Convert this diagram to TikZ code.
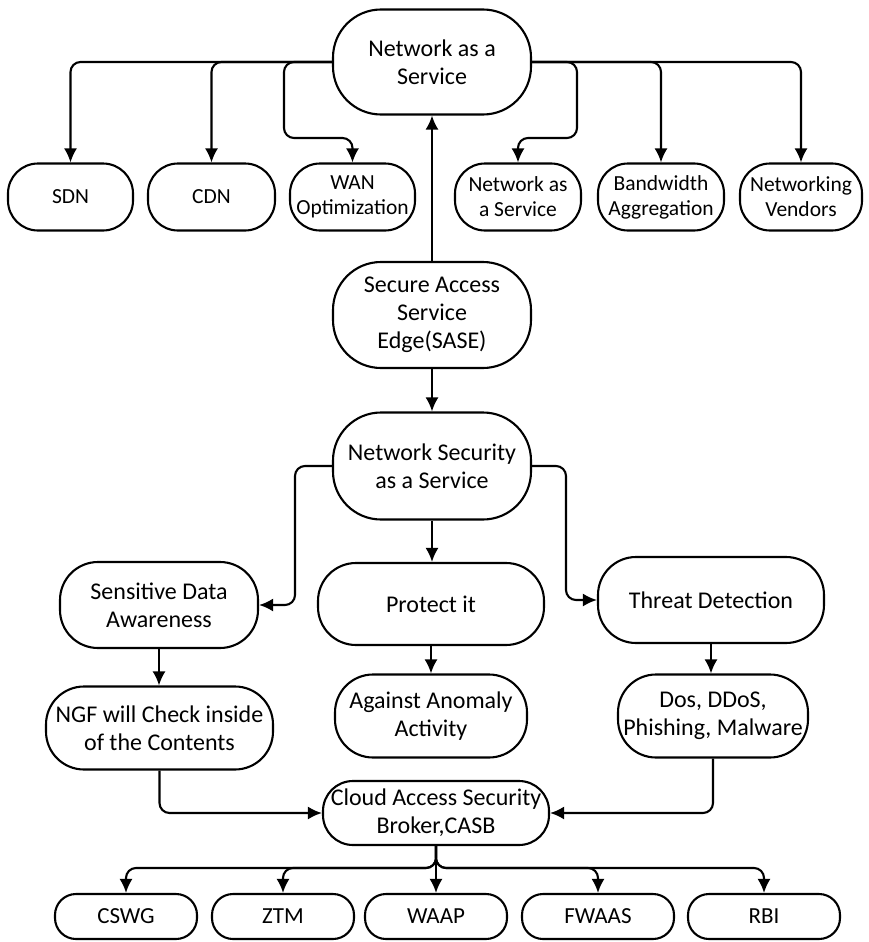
\documentclass[tikz,border=0pt]{standalone}
\usepackage{fontspec}
\setmainfont{Carlito}
\usetikzlibrary{arrows.meta}
\tikzset{
  box/.style={draw, line width=2.1pt, align=center, inner sep=0pt,
    font=\fontsize{24}{28}\selectfont},
  bigbox/.style={box, minimum width=198pt, minimum height=105pt, rounded corners=48pt},
  midbox/.style={box, minimum width=226pt, minimum height=84pt, rounded corners=38pt},
  smallbox/.style={box, minimum width=125pt, minimum height=67pt, rounded corners=30pt,
    font=\fontsize{21.5}{25}\selectfont},
  leafbox/.style={box, minimum width=142pt, minimum height=45pt, rounded corners=21pt,
    font=\fontsize{23}{27}\selectfont},
  conn/.style={line width=2.1pt, rounded corners=10pt,
    -{Latex[length=14pt,width=13pt]}},
}
\begin{document}
\begin{tikzpicture}[x=1pt,y=-1pt]
\useasboundingbox (0,0) rectangle (868,942);

% root and its service branches
\node[bigbox] (naas) at (432,62) {Network as a\\Service};
\node[smallbox] (sdn) at (70.5,197) {SDN};
\node[smallbox, minimum width=127pt] (cdn) at (211.5,197) {CDN};
\node[smallbox] (wan) at (352.5,197) {WAN\\Optimization};
\node[smallbox, minimum width=126pt] (naas2) at (518,197) {Network as\\a Service};
\node[smallbox, minimum width=126pt] (bw) at (661,197) {Bandwidth\\Aggregation};
\node[smallbox, minimum width=122pt] (vend) at (801,197) {Networking\\Vendors};

% SASE core
\node[bigbox, minimum height=106pt] (sase) at (432,315) {Secure Access\\Service\\Edge(SASE)};
\node[bigbox, minimum height=107pt] (nsaas) at (432,466) {Network Security\\as a Service};

% security functions
\node[midbox, minimum width=198pt, minimum height=86pt] (sda) at (159,605) {Sensitive Data\\Awareness};
\node[midbox, minimum height=82pt] (prot) at (431,604) {Protect it};
\node[midbox, minimum height=86pt] (td) at (711,600) {Threat Detection};
\node[midbox, minimum width=227pt, minimum height=83pt] (ngf) at (159.5,728) {NGF will Check inside\\of the Contents};
\node[midbox, minimum width=192pt, minimum height=83pt] (aaa) at (431,716) {Against Anomaly\\Activity};
\node[midbox, minimum width=190pt, minimum height=83pt] (dos) at (713,716) {Dos, DDoS,\\Phishing, Malware};
\node[midbox, minimum height=64pt, rounded corners=30pt] (casb) at (436,813) {Cloud Access Security\\Broker,CASB};

% CASB components
\node[leafbox] (cswg) at (126,916.5) {CSWG};
\node[leafbox] (ztm) at (283,916.5) {ZTM};
\node[leafbox] (waap) at (436,916.5) {WAAP};
\node[leafbox, minimum width=152pt] (fwaas) at (598,916.5) {FWAAS};
\node[leafbox, minimum width=152pt] (rbi) at (764,916.5) {RBI};

% routing points
\coordinate (wanbend) at (284,138);
\coordinate (naasbend) at (577,138);
\coordinate (leftdrop) at (295,0);
\coordinate (rightdrop) at (566,0);
\coordinate (bus) at (436,868);

% connectors from the root
\draw[conn] (naas.west) -| (sdn.north);
\draw[conn] (naas.west) -| (cdn.north);
\draw[conn] (naas.west) -| (wanbend) -| (wan.north);
\draw[conn] (naas.east) -| (naasbend) -| (naas2.north);
\draw[conn] (naas.east) -| (bw.north);
\draw[conn] (naas.east) -| (vend.north);

% core chain
\draw[conn] (sase.north) -- (naas.south);
\draw[conn] (sase.south) -- (nsaas.north);
\draw[conn] (nsaas.west) -| (leftdrop |- sda.east) -- (sda.east);
\draw[conn] (nsaas.east) -| (rightdrop |- td.west) -- (td.west);
\draw[conn] (nsaas.south) -- (nsaas.south |- prot.north);
\draw[conn] (sda.south) -- (sda.south |- ngf.north);
\draw[conn] (prot.south) -- (prot.south |- aaa.north);
\draw[conn] (td.south) -- (td.south |- dos.north);
\draw[conn] (ngf.south) |- (casb.west);
\draw[conn] (dos.south) |- (casb.east);

% fan-out from CASB
\draw[conn] (casb.south) -- (bus) -| (cswg.north);
\draw[conn] (casb.south) -- (bus) -| (ztm.north);
\draw[conn] (casb.south) -- (waap.north);
\draw[conn] (casb.south) -- (bus) -| (fwaas.north);
\draw[conn] (casb.south) -- (bus) -| (rbi.north);
\end{tikzpicture}
\end{document}
